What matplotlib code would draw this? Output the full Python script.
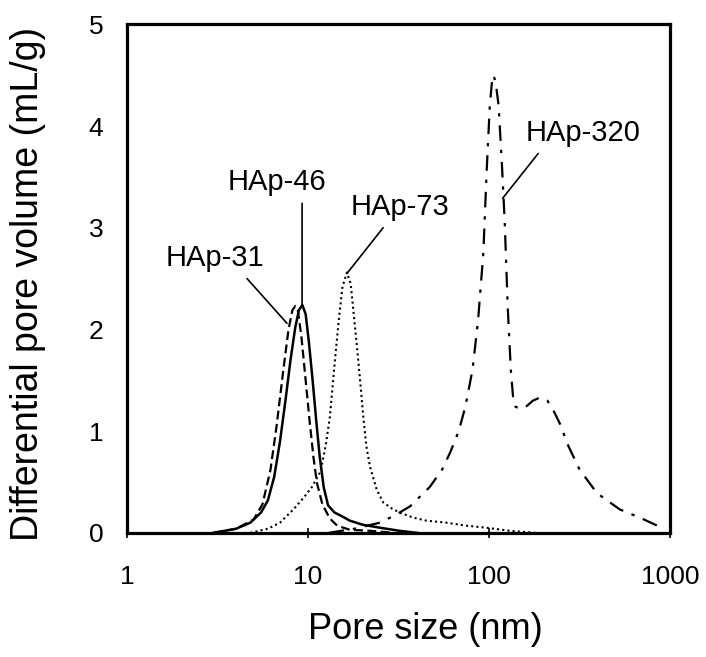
import numpy as np
import matplotlib
matplotlib.use("Agg")
import matplotlib.pyplot as plt

plt.rcParams['font.family'] = ['Liberation Sans', 'DejaVu Sans']

# pore size distributions
hap31_x = [3.0, 4.0, 5.0, 5.6, 6.2, 6.7, 7.3, 7.8, 8.2, 8.5, 8.8, 9.2, 9.7, 10.2, 10.7, 11.2, 12.0, 13.2, 14.5, 17, 22, 30]
hap31_y = [0, 0.04, 0.13, 0.28, 0.62, 1.05, 1.6, 2.0, 2.19, 2.23, 2.18, 1.92, 1.5, 1.1, 0.75, 0.49, 0.28, 0.14, 0.07, 0.03, 0.02, 0.0]

hap46_x = [3.0, 4.0, 4.8, 5.5, 6.0, 6.5, 7.0, 7.5, 8.0, 8.5, 8.9, 9.3, 9.7, 10.1, 10.6, 11.1, 11.6, 12.2, 12.9, 14.0, 15.5, 17, 20, 25, 32, 40]
hap46_y = [0, 0.04, 0.1, 0.2, 0.32, 0.55, 0.9, 1.3, 1.7, 2.02, 2.19, 2.24, 2.15, 1.88, 1.5, 1.1, 0.75, 0.45, 0.27, 0.2, 0.16, 0.12, 0.08, 0.05, 0.02, 0]

hap73_x = [4.8, 6, 7, 8.3, 9.5, 10.5, 11.7, 12.5, 13.2, 14, 14.8, 15.5, 16.4, 17.2, 18, 18.7, 19.5, 20.2, 21, 22, 24, 26, 29, 32, 38, 45, 58, 75, 97, 130, 180]
hap73_y = [0, 0.04, 0.1, 0.23, 0.35, 0.45, 0.6, 0.85, 1.14, 1.65, 2.1, 2.42, 2.56, 2.45, 2.1, 1.8, 1.45, 1.14, 0.85, 0.65, 0.42, 0.3, 0.24, 0.2, 0.15, 0.12, 0.1, 0.07, 0.05, 0.02, 0]

hap320_x = [13, 18, 25, 30, 36.6, 47, 55, 61, 68, 74, 81, 87, 93, 97, 101, 104, 106, 109, 113, 118, 122, 127, 132, 136, 140, 148, 160, 175, 191, 210, 226, 250, 270, 317, 395, 528, 700, 900]
hap320_y = [0, 0.04, 0.1, 0.17, 0.26, 0.45, 0.62, 0.79, 1.0, 1.24, 1.6, 2.09, 2.75, 3.55, 4.2, 4.45, 4.5, 4.42, 4.2, 3.6, 3.07, 2.2, 1.6, 1.32, 1.24, 1.22, 1.24, 1.3, 1.33, 1.3, 1.21, 1.05, 0.88, 0.62, 0.39, 0.23, 0.14, 0.05]

x_ticks = [1, 10, 100, 1000]
y_ticks = [0, 1, 2, 3, 4, 5]

# label text, text centre, leader start, leader end
labels = ['HAp-31', 'HAp-46', 'HAp-73', 'HAp-320']
label_pos = [(3.06, 2.70), (6.74, 3.45), (32.2, 3.20), (331, 3.93)]
leader_from = [(4.6, 2.50), (9.27, 3.24), (26.0, 3.0), (187, 3.73)]
leader_to = [(7.65, 2.06), (9.27, 2.24), (16.4, 2.55), (119, 3.29)]

fig = plt.figure(figsize=(7.06, 6.57), dpi=100)
ax = fig.add_axes([0.180, 0.189, 0.769, 0.774])

ax.plot(hap31_x, hap31_y, color='black', lw=1.6, linestyle=(0, (4, 2)))
ax.plot(hap46_x, hap46_y, color='black', lw=1.8, linestyle='-')
ax.plot(hap73_x, hap73_y, color='black', lw=1.5, linestyle=(0, (1, 1.5)))
ax.plot(hap320_x, hap320_y, color='black', lw=1.6, linestyle=(0, (7, 4, 1.5, 4)))

ax.set_xscale('log')
ax.set_xlim(1, 1000)
ax.set_ylim(0, 5)
ax.set_xticks(x_ticks)
ax.set_xticklabels([str(t) for t in x_ticks])
ax.set_yticks(y_ticks)
ax.set_yticklabels([str(t) for t in y_ticks])
ax.minorticks_off()
ax.tick_params(axis='x', direction='inout', length=7, width=1.2, labelsize=19, pad=20)
ax.tick_params(axis='y', length=0, labelsize=19, pad=17)
for s in ax.spines.values():
    s.set_linewidth(2.3)

ax.set_xlabel('Pore size (nm)', fontsize=26)
ax.xaxis.set_label_coords(0.549, -0.155)
ax.set_ylabel('Differential pore volume (mL/g)', fontsize=27)
ax.yaxis.set_label_coords(-0.150, 0.489)

for name, tp, p0, p1 in zip(labels, label_pos, leader_from, leader_to):
    ax.text(tp[0], tp[1], name, fontsize=21, ha='center', va='center')
    ax.annotate('', xy=p1, xytext=p0,
                arrowprops=dict(arrowstyle='-', color='black', lw=1.2, shrinkA=0, shrinkB=0))

fig.savefig('out.png', dpi=100)
